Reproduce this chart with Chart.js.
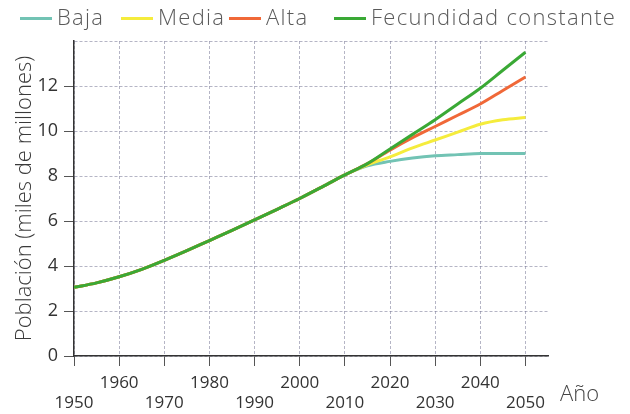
<!DOCTYPE html>
<html lang="es">
<head>
<meta charset="utf-8">
<title>Población mundial</title>
<script src="https://cdn.jsdelivr.net/npm/chart.js@4"></script>
<style>
  html, body { margin: 0; padding: 0; background: #fff; }
  #wrap { position: relative; width: 630px; height: 414px; font-family: 'Open Sans', sans-serif; font-weight: 300; }
  #chart { position: absolute; left: 0; top: 0; }
  .leg { position: absolute; top: 1px; font-size: 22px; letter-spacing: 1.3px; color: #5a5a5a; white-space: nowrap; line-height: 30px; }
  .leg i { display: inline-block; width: 32px; height: 3px; vertical-align: middle; margin-right: 5px; position: relative; top: -1px; }
  #axis-x { position: absolute; left: 560px; top: 377px; font-size: 22px; color: #444; }
</style>
</head>
<body>
<div id="wrap">
  <canvas id="chart" width="630" height="414"></canvas>
  <div id="legend"></div>
  <div id="axis-x">Año</div>
</div>
<script>
  // Years sampled every 5 years; the four projections share the past curve
  var years = [1950, 1955, 1960, 1965, 1970, 1975, 1980, 1985, 1990, 1995,
               2000, 2005, 2010, 2015, 2020, 2025, 2030, 2035, 2040, 2045, 2050];

  var past = [3.05, 3.25, 3.52, 3.85, 4.25, 4.68, 5.13, 5.58, 6.05, 6.52, 7.0, 7.52, 8.05];

  // 2015 onwards
  var baja   = [8.45, 8.65, 8.80, 8.90, 8.95, 9.0, 9.0, 9.0];
  var media  = [8.50, 8.85, 9.25, 9.60, 9.95, 10.3, 10.5, 10.6];
  var alta   = [8.55, 9.15, 9.70, 10.2, 10.7, 11.2, 11.8, 12.4];
  var fecund = [8.55, 9.20, 9.85, 10.5, 11.2, 11.9, 12.7, 13.5];

  var yTicks = [0, 2, 4, 6, 8, 10, 12];

  var SERIES = [
    { label: 'Baja',                 color: '#72c3b4', values: baja,   legendX: 20 },
    { label: 'Media',                color: '#f5ec3c', values: media,  legendX: 121 },
    { label: 'Alta',                 color: '#f06838', values: alta,   legendX: 229 },
    { label: 'Fecundidad constante', color: '#3aa935', values: fecund, legendX: 334 }
  ];

  function points(tail) {
    var vals = past.concat(tail);
    return years.map(function (y, i) { return { x: y, y: vals[i] }; });
  }

  // HTML legend, one short coloured rule per series
  var legend = document.getElementById('legend');
  SERIES.forEach(function (s) {
    var d = document.createElement('div');
    d.className = 'leg';
    d.style.left = s.legendX + 'px';
    d.innerHTML = '<i style="background:' + s.color + '"></i>' + s.label;
    legend.appendChild(d);
  });

  var FONT = "'Open Sans', sans-serif";
  var gridCol = 'rgba(120,120,150,0.55)';

  new Chart(document.getElementById('chart'), {
    type: 'line',
    data: {
      datasets: SERIES.map(function (s, i) {
        return {
          label: s.label,
          data: points(s.values),
          borderColor: s.color,
          backgroundColor: s.color,
          borderWidth: 3,
          pointRadius: 0,
          fill: false,
          cubicInterpolationMode: 'monotone',
          // constant fertility line sits on top of the shared stretch
          order: i === 3 ? 0 : 4 - i
        };
      })
    },
    options: {
      responsive: false,
      animation: false,
      layout: { padding: { top: 41, right: 82, left: 0, bottom: 0 } },
      plugins: { legend: { display: false }, tooltip: { enabled: false } },
      scales: {
        x: {
          type: 'linear',
          min: 1950,
          max: 2055,
          afterFit: function (scale) { scale.height = 58; },
          ticks: {
            stepSize: 10,
            includeBounds: false,
            autoSkip: false,
            maxRotation: 0,
            padding: 7,
            color: '#333',
            font: { family: FONT, size: 17 },
            callback: function (v) {
              // alternate rows so the labels don't crowd
              return ((v - 1950) / 10) % 2 === 0 ? ['', String(v)] : [String(v)];
            }
          },
          grid: {
            color: gridCol,
            lineWidth: 1,
            tickLength: 10,
            tickColor: '#555',
            tickWidth: 1
          },
          border: { display: true, color: '#333', width: 1.5, dash: [3, 2] }
        },
        y: {
          min: 0,
          max: 14,
          afterFit: function (scale) { scale.width = 74; },
          afterBuildTicks: function (scale) {
            scale.ticks = yTicks.concat([14]).map(function (v) { return { value: v }; });
          },
          ticks: {
            padding: 6,
            color: '#333',
            font: { family: FONT, size: 18 },
            callback: function (v) { return yTicks.indexOf(v) >= 0 ? String(v) : ''; }
          },
          grid: {
            color: gridCol,
            lineWidth: 1,
            tickLength: 10,
            tickColor: function (ctx) { return ctx.tick && ctx.tick.value === 14 ? 'rgba(0,0,0,0)' : '#555'; },
            tickWidth: 1
          },
          border: { display: true, color: '#333', width: 1.5, dash: [3, 2] },
          title: {
            display: true,
            text: 'Población (miles de millones)',
            color: '#3a3a3a',
            font: { family: FONT, size: 22, weight: 300 },
            padding: { top: 12, bottom: 0 }
          }
        }
      }
    }
  });
</script>
</body>
</html>
